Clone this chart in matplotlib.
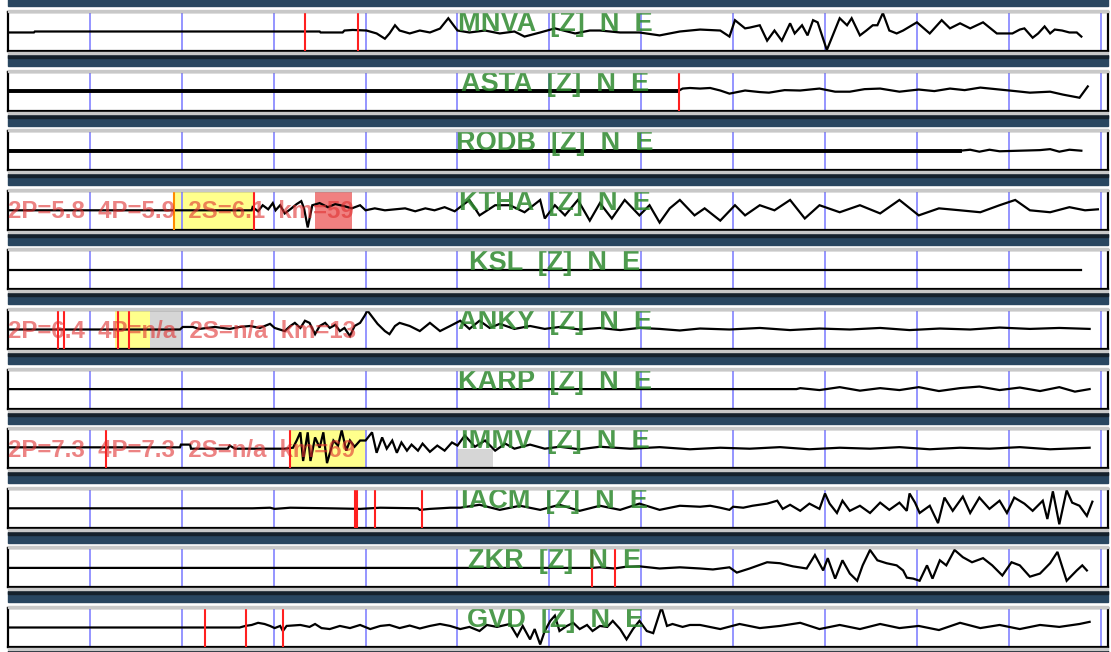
"""Multi-station seismogram panel (Z component), redrawn with matplotlib."""
import matplotlib
matplotlib.use("Agg")
import matplotlib.pyplot as plt
from matplotlib.patches import Rectangle

# ---- data -------------------------------------------------------------
stations = ["MNVA", "ASTA", "RODB", "KTHA", "KSL", "ANKY", "KARP", "IMMV", "IACM", "ZKR", "GVD"]
grid_times = [0, 10, 20, 30, 40, 50, 60, 70, 80, 90, 100, 110]

mnva_t = [-8.9, -6.1, -6.0, 25.0, 25.1, 27.5, 27.7, 28.6, 30.1, 31.2, 32.1, 32.6, 33.2, 33.7, 34.8,
          35.9, 37.0, 38.1, 39.0, 40.0, 41.3, 43.0, 44.6, 46.2, 47.3, 49.0, 50.6, 52.8, 54.4, 55.5,
          57.7, 59.8, 62.0, 64.2, 66.4, 68.6, 69.6, 70.2, 71.3, 71.8, 72.9, 73.7, 74.5, 75.3, 76.2,
          76.7, 77.5, 78.1, 78.7, 79.2, 80.2, 81.6, 82.4, 82.9, 83.8, 84.5, 85.2, 85.7, 86.3, 87.0,
          87.8, 88.5, 90.0, 91.4, 92.7, 93.6, 94.7, 95.8, 97.2, 98.7, 100.4, 101.2, 101.7, 102.6,
          103.2, 103.9, 104.5, 105.0, 105.8, 106.6, 107.4, 107.9]
mnva_a = [-0.05, -0.05, 0, 0, -0.05, -0.05, 0.05, 0.08, 0.05, -0.1, -0.37, -0.1, 0.32, 0.05, -0.1,
          0.05, -0.05, 0.15, 0.68, 0.05, -0.05, 0.05, -0.1, 0.0, -0.26, -0.05, 0.16, -0.1, 0.05, 0.05,
          -0.05, -0.05, -0.2, 0.0, 0.1, 0.05, -0.26, 0.58, 0.16, 0.2, 0.32, -0.47, 0.05, -0.47, 0.42,
          -0.1, 0.32, -0.2, 0.58, 0.47, -0.95, 0.68, 0.32, 0.68, -0.2, 0.05, 0.32, 0.32, 0.95, 0.05,
          -0.1, 0.05, 0.47, -0.1, 0.58, 0.16, 0.42, 0.16, 0.47, -0.1, -0.1, 0.1, 0.16, -0.32,
          -0.1, 0.26, -0.1, 0.1, 0.05, -0.05, -0.05, -0.26]

asta_t = [-8.9, 64.0, 64.5, 65.3, 66.4, 67.5, 68.6, 69.6, 71.3, 72.9, 73.9, 75.6, 77.3, 79.4, 81.1,
          82.7, 84.3, 86.0, 88.1, 90.2, 91.9, 93.6, 95.2, 96.9, 99.0, 100.7, 102.3, 104.5, 105.9,
          107.7, 108.6]
asta_a = [0, 0, 0.13, 0.16, 0.13, 0.16, 0.03, -0.13, 0.03, -0.05, -0.08, 0.05, 0.03, 0.13, -0.03,
          -0.03, 0.1, 0.13, -0.03, 0.08, 0.0, 0.13, 0.05, 0.18, 0.08, 0.0, -0.08, -0.03, -0.18,
          -0.34, 0.24]

rodb_t = [-8.9, 94.7, 95.8, 96.8, 97.9, 99.0, 103.4, 104.5, 105.5, 106.6, 107.9]
rodb_a = [0, 0, 0.05, -0.05, 0.05, -0.03, 0.03, 0.08, -0.05, 0.05, 0.0]

ktha_t = [-8.9, 17.6, 17.7, 18.3, 18.8, 19.4, 19.9, 20.2, 20.7, 21.2, 21.8, 22.5, 23.0, 23.3, 23.7,
          24.2, 25.0, 25.9, 26.7, 27.7, 28.5, 29.4, 30.0, 31.0, 32.1, 33.2, 34.3, 35.4, 36.5, 37.5,
          38.6, 39.7, 41.3, 42.4, 44.1, 45.7, 47.3, 49.0, 49.5, 50.6, 51.7, 53.1, 54.4, 55.5, 56.8,
          58.2, 59.8, 60.9, 62.0, 63.1, 64.2, 65.8, 66.9, 68.6, 70.2, 71.3, 72.9, 74.5, 76.2, 77.8,
          79.4, 81.6, 83.8, 86.0, 88.1, 90.2, 92.4, 94.7, 96.9, 99.0, 100.7, 102.3, 104.5, 106.6,
          108.3, 109.7]
ktha_a = [0, 0, 0.16, -0.05, 0.26, 0.05, 0.37, 0.0, 0.26, -0.16, 0.05, 0.32, 0.47, 0.1, -0.88,
          0.26, 0.37, 0.16, 0.32, 0.21, 0.1, 0.26, 0.0, 0.1, 0.0, 0.05, 0.1, -0.05, 0.1, 0.0,
          0.16, -0.05, 0.53, -0.26, 0.26, 0.26, -0.1, 0.53, -0.42, 0.26, -0.26, 0.53, -0.53, 0.37, -0.42,
          0.53, -0.26, 0.26, -0.63, 0.1, 0.53, -0.26, 0.1, -0.53, 0.26, -0.26, 0.26, 0.0, 0.53, -0.42,
          0.26, -0.1, 0.26, -0.16, 0.53, -0.26, 0.1, 0.0, -0.1, 0.26, 0.53, 0.0, -0.1, 0.16,
          0.0, 0.05]

ksl_t = [-8.9, 107.9]
ksl_a = [0, 0]

anky_t = [-8.9, 9.8, 10.1, 11.2, 11.9, 13.6, 15.2, 16.3, 17.4, 18.5, 19.6, 20.1, 21.2, 21.8, 22.3,
          22.9, 23.4, 23.9, 24.5, 25.0, 25.6, 26.1, 26.7, 27.2, 27.7, 28.3, 28.8, 29.4, 29.9, 30.2,
          30.7, 31.3, 32.1, 32.6, 33.2, 33.7, 34.8, 35.9, 37.0, 38.1, 39.2, 40.3, 41.3, 42.4, 43.5,
          44.6, 46.2, 47.9, 49.5, 51.1, 53.3, 55.5, 57.7, 59.8, 62.0, 64.2, 66.4, 69.6, 72.9, 76.2,
          79.4, 82.7, 86.0, 89.2, 92.5, 95.8, 99.0, 102.3, 105.5, 108.8]
anky_a = [0, 0, 0.13, 0.13, 0.03, 0.13, 0.03, 0.13, 0.18, 0.08, 0.29, 0.08, -0.08, 0.18, 0.34,
          0.08, 0.45, 0.34, -0.24, 0.18, 0.34, 0.08, 0.24, -0.08, 0.08, -0.34, 0.18, 0.34, 0.71, 0.97,
          0.66, 0.29, -0.08, -0.24, 0.18, 0.34, 0.18, -0.08, 0.34, -0.08, 0.18, 0.45, 0.03, 0.45, 0.08,
          0.29, 0.03, 0.18, 0.03, 0.13, 0.0, 0.08, -0.03, 0.08, 0.03, -0.05, 0.05, 0.0, 0.08, -0.03,
          0.05, 0.0, 0.08, -0.03, 0.05, 0.0, 0.1, 0.03, 0.08, 0.03]

karp_t = [-8.9, 76.9, 77.3, 79.4, 81.6, 83.8, 86.0, 88.1, 90.2, 92.4, 94.7, 96.8, 99.0, 101.2,
          103.4, 105.5, 107.2, 108.8]
karp_a = [0, 0, 0.05, -0.05, 0.1, -0.08, 0.05, -0.05, 0.1, -0.1, 0.05, 0.13, -0.05, 0.08,
          -0.1, 0.1, -0.13, 0.0]

immv_t = [-8.9, 9.8, 9.9, 10.9, 11.0, 15.0, 15.2, 15.8, 21.2, 22.1, 22.5, 22.9, 23.2, 23.7, 24.0,
          24.5, 25.0, 25.4, 25.8, 26.5, 27.0, 27.4, 27.9, 28.3, 28.8, 29.4, 30.0, 30.7, 31.2, 31.8,
          32.3, 32.9, 33.4, 33.9, 34.5, 35.0, 35.7, 36.2, 37.0, 37.8, 38.6, 39.4, 40.0, 40.8, 41.9,
          43.0, 44.1, 45.2, 46.2, 47.9, 49.5, 51.1, 53.3, 55.5, 58.8, 62.0, 65.3, 68.6, 71.8, 75.1,
          78.3, 81.6, 84.9, 88.1, 91.4, 94.7, 97.9, 101.2, 104.5, 108.8]
immv_a = [0.07, 0.07, 0.21, 0.21, 0.0, 0.0, 0.16, 0.0, 0.0, 0.05, 0.42, 0.84, -0.63, 0.84, -0.63,
          0.58, 0.05, 0.84, -0.74, 0.42, 0.16, 0.95, -0.1, 0.42, 0.1, 0.42, 0.42, 0.84, -0.21, 0.58,
          0.0, 0.42, -0.21, 0.32, -0.1, 0.21, -0.1, 0.26, -0.16, 0.16, -0.1, 0.32, 0.16, 0.68, 0.1,
          0.42, -0.1, 0.26, 0.0, 0.21, 0.0, 0.1, -0.03, 0.1, 0.0, 0.08, -0.03, 0.05, 0.0, 0.08,
          -0.03, 0.05, 0.0, 0.08, -0.03, 0.05, 0.0, 0.08, -0.03, 0.05]

iacm_t = [-8.9, 17.7, 19.6, 20.1, 21.8, 26.1, 29.4, 31.6, 35.7, 35.9, 37.0, 39.2, 40.3, 42.4, 44.6,
          46.8, 49.0, 51.1, 53.3, 55.5, 57.7, 59.8, 62.0, 64.2, 66.4, 67.5, 68.6, 69.6, 70.0, 71.1,
          72.1, 73.7, 74.8, 75.4, 76.2, 77.3, 78.3, 79.4, 80.0, 80.5, 81.3, 81.9, 82.7, 83.8, 84.9,
          86.0, 87.0, 88.1, 88.9, 89.2, 89.8, 90.3, 91.4, 92.3, 93.0, 93.9, 95.0, 95.8, 96.8, 97.9,
          99.0, 99.8, 100.6, 101.7, 102.6, 103.7, 104.2, 104.8, 105.5, 106.3, 106.9, 107.7, 108.5,
          109.1]
iacm_a = [0, 0, 0.03, -0.03, 0.03, 0.0, -0.03, 0.03, 0.0, -0.08, -0.03, 0.03, 0.03, 0.18, -0.08,
          0.13, -0.08, 0.18, -0.13, 0.13, -0.08, 0.24, -0.08, 0.13, 0.08, 0.13, 0.03, -0.08, 0.08, 0.03,
          0.13, 0.24, 0.39, -0.03, 0.18, -0.13, 0.24, -0.03, 0.76, 0.24, -0.24, 0.39, -0.13, 0.13, -0.24,
          0.29, -0.08, 0.29, -0.13, 0.76, 0.29, -0.24, 0.13, -0.76, 0.55, -0.13, 0.6, -0.24, 0.55, -0.03,
          0.39, -0.24, 0.55, 0.24, -0.13, 0.39, -0.55, 0.87, -0.82, 0.92, 0.29, 0.13, -0.39,
          0.34]

zkr_t = [-8.9, 54.6, 55.5, 57.1, 58.2, 59.8, 62.0, 64.2, 66.4, 67.8, 69.6, 70.4, 71.8, 73.7, 75.1,
         76.5, 78.0, 78.9, 79.8, 80.3, 81.1, 81.9, 82.7, 83.5, 84.1, 84.9, 85.7, 86.7, 87.8, 88.5,
         88.9, 89.6, 90.3, 91.1, 91.7, 92.5, 93.2, 94.1, 95.0, 96.0, 97.2, 98.2, 99.3, 100.3, 101.2,
         102.3, 103.4, 104.5, 105.3, 106.3, 107.4, 108.0, 108.5]
zkr_a = [0, 0, 0.03, -0.03, 0.05, 0.08, -0.03, 0.03, -0.03, -0.08, 0.03, -0.24, -0.03, 0.29, 0.24,
         0.08, -0.03, 0.66, -0.13, 0.5, -0.55, 0.39, -0.29, -0.66, 0.13, 0.92, 0.39, 0.24, 0.13, -0.13,
         -0.5, -0.55, -0.66, 0.13, -0.55, 0.39, 0.13, 0.92, 0.55, 0.29, 0.5, 0.13, -0.39, 0.29, 0.13,
         -0.45, -0.29, 0.24, 0.82, -0.66, -0.13, 0.13, -0.13]

gvd_t = [-8.9, 16.3, 16.9, 17.6, 18.3, 19.0, 19.6, 20.1, 20.7, 21.0, 21.4, 22.9, 23.9, 24.5, 25.2,
         26.1, 27.2, 28.3, 29.4, 30.5, 31.6, 32.6, 33.7, 34.8, 35.9, 37.0, 38.1, 39.2, 40.3, 41.3,
         42.4, 43.2, 44.3, 45.7, 46.5, 47.1, 47.9, 48.4, 49.0, 49.5, 50.1, 50.6, 51.1, 51.9, 52.6,
         53.3, 54.1, 54.7, 55.5, 56.3, 56.9, 57.7, 58.4, 59.1, 59.8, 60.6, 61.3, 62.2, 62.8, 63.4,
         64.5, 65.3, 66.4, 68.6, 70.7, 72.9, 75.1, 77.3, 79.4, 81.6, 83.8, 86.0, 88.1, 90.2, 92.4,
         94.7, 96.9, 99.0, 101.2, 103.4, 105.5, 107.7, 108.8]
gvd_a = [0, 0, 0.08, 0.13, 0.24, 0.18, 0.08, -0.03, 0.08, -0.18, 0.08, 0.13, 0.03, 0.18, -0.03,
         -0.08, 0.08, -0.03, 0.13, -0.08, 0.08, 0.13, -0.03, 0.1, -0.05, 0.08, 0.18, 0.08, -0.08, 0.03,
         -0.18, 0.13, 0.03, 0.18, -0.45, 0.08, -0.61, -0.08, -0.87, -0.18, 0.34, 0.61, -0.18, 0.08, 0.24,
         -0.08, 0.13, -0.18, 0.08, 0.03, 0.34, -0.08, -0.61, -0.08, 0.34, -0.18, -0.29, 1.03, 0.08, 0.18,
         0.03, 0.13, 0.13, -0.08, 0.18, -0.03, 0.08, 0.24, -0.08, 0.13, -0.08, 0.18, -0.03, 0.08, -0.13,
         0.24, -0.03, 0.13, -0.08, 0.13, 0.03, 0.18, 0.29]

traces = [(mnva_t, mnva_a), (asta_t, asta_a), (rodb_t, rodb_a), (ktha_t, ktha_a), (ksl_t, ksl_a),
          (anky_t, anky_a), (karp_t, karp_a), (immv_t, immv_a), (iacm_t, iacm_a), (zkr_t, zkr_a),
          (gvd_t, gvd_a)]

# stations whose pre-event noise band shows as a thick flat line, and until when (s)
noise_until = {"ASTA": 64.0, "RODB": 94.7}

# phase picks (s)
picks = {
    "MNVA": [23.4, 29.2],
    "ASTA": [64.1],
    "KTHA": [17.8],
    "ANKY": [-3.5, -2.8, 3.0, 4.3],
    "IMMV": [1.8, 21.8],
    "IACM": [28.8, 29.1, 31.0, 36.1],
    "ZKR": [54.6, 57.1],
    "GVD": [12.5, 17.0, 21.0],
}
orange_picks = {"KTHA": [9.2]}

# shaded windows: (start, end, kind, lower-half-only)
windows = {
    "KTHA": [(9.2, 17.7, "yellow", False), (24.5, 28.5, "pink", False)],
    "ANKY": [(2.7, 6.5, "yellow", False), (6.5, 10.1, "grey", False)],
    "IMMV": [(21.8, 30.0, "yellow", False), (40.0, 43.9, "grey", True)],
}

# magnitude / distance readouts
readouts = {
    "KTHA": "2P=5.8  4P=5.9  2S=6.1  km=59",
    "ANKY": "2P=6.4  4P=n/a  2S=n/a  km=13",
    "IMMV": "2P=7.3  4P=7.3  2S=n/a  km=69",
}

# ---- drawing ------------------------------------------------------------
W, H = 1111, 652
fig = plt.figure(figsize=(W / 100, H / 100), dpi=100)
fig.patch.set_facecolor("white")

win_color = {"yellow": "#ffff8c", "pink": "#f08080", "grey": "#d6d6d6"}
x0, x1 = 8, 1108
pitch = 59.6
ph = 39


def fy(y):
    return 1 - y / H


# dark separator bands between panels
for i in range(-1, 11):
    top = 12 + pitch * i + ph
    fig.patches.append(Rectangle((x0 / W, fy(top + 15)), (x1 - x0) / W, 11 / H,
                                 transform=fig.transFigure, color="#294660", zorder=0))
    fig.patches.append(Rectangle((x0 / W, fy(top + 7)), (x1 - x0) / W, 3 / H,
                                 transform=fig.transFigure, color="#15212c", zorder=0))
    for yy in (top + 1, top + 18.5):
        fig.patches.append(Rectangle((x0 / W, fy(yy + 2)), (x1 - x0) / W, 2 / H,
                                     transform=fig.transFigure, color="#c8c8c8", zorder=0))

for i, name in enumerate(stations):
    top = 12 + pitch * i
    ax = fig.add_axes([x0 / W, fy(top + ph), (x1 - x0) / W, ph / H])
    ax.set_xlim(-8.92, 110.8)
    ax.set_ylim(-1, 1)
    ax.set_xticks([])
    ax.set_yticks([])
    for s in ax.spines.values():
        s.set_linewidth(1.6)
        s.set_color("black")

    for (a, b, kind, half) in windows.get(name, []):
        ax.axvspan(a, b, ymin=0, ymax=0.5 if half else 1, color=win_color[kind], lw=0, zorder=0)

    for g in grid_times:
        ax.axvline(g, color="#8c8cff", lw=1.3, zorder=1)

    t, a = traces[i]
    ax.plot(t, a, color="black", lw=1.6, zorder=2, solid_joinstyle="miter")
    if name in noise_until:
        seg = [k for k, tt in enumerate(t) if tt <= noise_until[name]]
        ax.plot([t[k] for k in seg], [a[k] for k in seg], color="black", lw=2.8, zorder=2)

    for p in orange_picks.get(name, []):
        ax.axvline(p, color="#ff8c00", lw=1.5, zorder=3)
    for p in picks.get(name, []):
        ax.axvline(p, color="#ff2020", lw=1.5, zorder=3)

    ax.text(50.6, 1.04, f"{name}  [Z]  N  E", ha="center", va="top", fontsize=19.5,
            fontweight="bold", color="#2f8a2f", alpha=0.85, family="Liberation Sans", zorder=4)
    if name in readouts:
        ax.text(-8.9, -0.08, readouts[name], ha="left", va="center", fontsize=17.3,
                fontweight="bold", color="#e03030", alpha=0.6, family="Liberation Sans", zorder=4)

fig.savefig("out.png", dpi=100)
